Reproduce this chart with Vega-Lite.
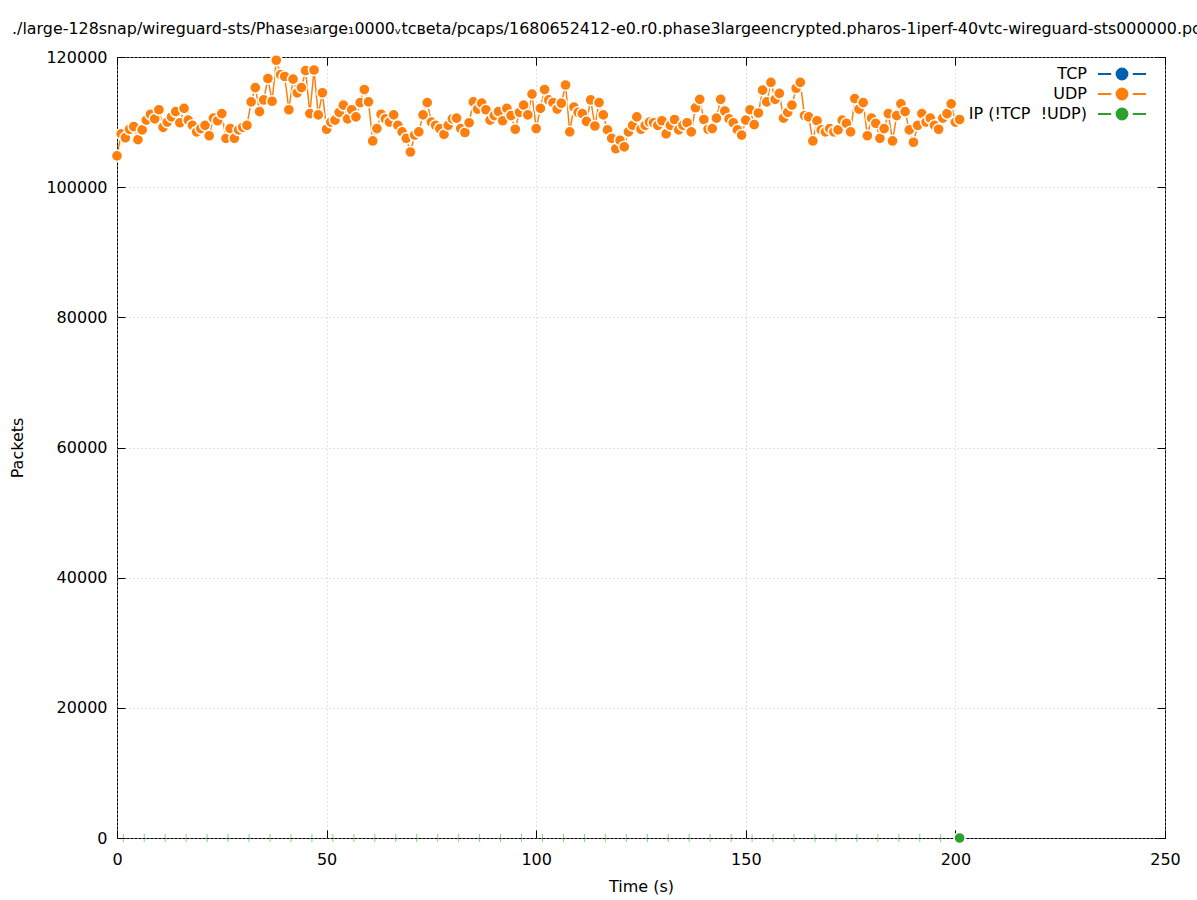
{
"$schema": "https://vega.github.io/schema/vega-lite/v6.json",
"width": 1048,
"height": 781,
"autosize": {"type": "none"},
"padding": {"left": 117, "top": 57, "right": 32, "bottom": 62},
"background": "white",
"title": {"text": "./large-128snap/wireguard-sts/Phase₃ₗarge₁0000ᵥtcʙeta/pcaps/1680652412-e0.r0.phase3largeencrypted.pharos-1iperf-40vtc-wireguard-sts000000.pcap", "anchor": "start", "frame": "group", "dx": -105, "offset": -1, "baseline": "alphabetic", "font": "DejaVu Sans", "fontSize": 15.9, "fontWeight": "normal", "color": "black"},
"datasets": {
"udp": [
{"t":0,"p":104800},{"t":1,"p":108200},{"t":2,"p":107600},{"t":3,"p":108900},{"t":4,"p":109300},{"t":5,"p":107300},{"t":6,"p":108800},{"t":7,"p":110300},{"t":8,"p":111200},{"t":9,"p":110500},
{"t":10,"p":111900},{"t":11,"p":109200},{"t":12,"p":110000},{"t":13,"p":110800},{"t":14,"p":111600},{"t":15,"p":109900},{"t":16,"p":112100},{"t":17,"p":110300},{"t":18,"p":109500},{"t":19,"p":108500},
{"t":20,"p":109000},{"t":21,"p":109500},{"t":22,"p":107900},{"t":23,"p":110600},{"t":24,"p":110200},{"t":25,"p":111300},{"t":26,"p":107500},{"t":27,"p":109000},{"t":28,"p":107500},{"t":29,"p":108800},
{"t":30,"p":109200},{"t":31,"p":109500},{"t":32,"p":113100},{"t":33,"p":115300},{"t":34,"p":111600},{"t":35,"p":113400},{"t":36,"p":116700},{"t":37,"p":113200},{"t":38,"p":119500},{"t":39,"p":117300},
{"t":40,"p":117000},{"t":41,"p":111900},{"t":42,"p":116600},{"t":43,"p":114500},{"t":44,"p":115300},{"t":45,"p":117900},{"t":46,"p":111300},{"t":47,"p":118000},{"t":48,"p":111100},{"t":49,"p":114500},
{"t":50,"p":108900},{"t":51,"p":110000},{"t":52,"p":110300},{"t":53,"p":111500},{"t":54,"p":112600},{"t":55,"p":110500},{"t":56,"p":111900},{"t":57,"p":110800},{"t":58,"p":113000},{"t":59,"p":115000},
{"t":60,"p":113100},{"t":61,"p":107100},{"t":62,"p":109000},{"t":63,"p":111200},{"t":64,"p":110500},{"t":65,"p":110000},{"t":66,"p":111100},{"t":67,"p":109500},{"t":68,"p":108500},{"t":69,"p":107500},
{"t":70,"p":105400},{"t":71,"p":108000},{"t":72,"p":108500},{"t":73,"p":111100},{"t":74,"p":113000},{"t":75,"p":110000},{"t":76,"p":109500},{"t":77,"p":109000},{"t":78,"p":108100},{"t":79,"p":109500},
{"t":80,"p":110500},{"t":81,"p":110600},{"t":82,"p":109000},{"t":83,"p":108400},{"t":84,"p":109900},{"t":85,"p":113100},{"t":86,"p":112000},{"t":87,"p":112900},{"t":88,"p":111900},{"t":89,"p":110300},
{"t":90,"p":111000},{"t":91,"p":111600},{"t":92,"p":110200},{"t":93,"p":112100},{"t":94,"p":111000},{"t":95,"p":108900},{"t":96,"p":111500},{"t":97,"p":112600},{"t":98,"p":111100},{"t":99,"p":114300},
{"t":100,"p":109000},{"t":101,"p":112100},{"t":102,"p":115000},{"t":103,"p":113400},{"t":104,"p":113000},{"t":105,"p":112000},{"t":106,"p":112900},{"t":107,"p":115700},{"t":108,"p":108500},{"t":109,"p":112300},
{"t":110,"p":111500},{"t":111,"p":111300},{"t":112,"p":110100},{"t":113,"p":113400},{"t":114,"p":109400},{"t":115,"p":113000},{"t":116,"p":111100},{"t":117,"p":108800},{"t":118,"p":107500},{"t":119,"p":105900},
{"t":120,"p":107200},{"t":121,"p":106200},{"t":122,"p":108500},{"t":123,"p":109500},{"t":124,"p":110800},{"t":125,"p":108900},{"t":126,"p":109500},{"t":127,"p":110000},{"t":128,"p":109900},{"t":129,"p":109500},
{"t":130,"p":110200},{"t":131,"p":108200},{"t":132,"p":109500},{"t":133,"p":110400},{"t":134,"p":108800},{"t":135,"p":109500},{"t":136,"p":109900},{"t":137,"p":108500},{"t":138,"p":112200},{"t":139,"p":113500},
{"t":140,"p":110400},{"t":141,"p":108900},{"t":142,"p":109000},{"t":143,"p":110600},{"t":144,"p":113500},{"t":145,"p":111700},{"t":146,"p":110500},{"t":147,"p":109900},{"t":148,"p":108800},{"t":149,"p":108000},
{"t":150,"p":110300},{"t":151,"p":111900},{"t":152,"p":109600},{"t":153,"p":111400},{"t":154,"p":114900},{"t":155,"p":113100},{"t":156,"p":116100},{"t":157,"p":113500},{"t":158,"p":114400},{"t":159,"p":110600},
{"t":160,"p":111500},{"t":161,"p":112600},{"t":162,"p":115200},{"t":163,"p":116100},{"t":164,"p":111000},{"t":165,"p":110800},{"t":166,"p":107100},{"t":167,"p":110200},{"t":168,"p":108800},{"t":169,"p":108500},
{"t":170,"p":109000},{"t":171,"p":108500},{"t":172,"p":108800},{"t":173,"p":110300},{"t":174,"p":109800},{"t":175,"p":108500},{"t":176,"p":113600},{"t":177,"p":112000},{"t":178,"p":113000},{"t":179,"p":107900},
{"t":180,"p":110600},{"t":181,"p":109800},{"t":182,"p":107500},{"t":183,"p":109000},{"t":184,"p":111300},{"t":185,"p":107100},{"t":186,"p":111000},{"t":187,"p":112800},{"t":188,"p":111600},{"t":189,"p":108800},
{"t":190,"p":106900},{"t":191,"p":109500},{"t":192,"p":111300},{"t":193,"p":110000},{"t":194,"p":110600},{"t":195,"p":109500},{"t":196,"p":108900},{"t":197,"p":110600},{"t":198,"p":111300},{"t":199,"p":112800},
{"t":200,"p":110000},{"t":201,"p":110400}
],
"ip": [
{"t":1.5,"p":0},{"t":6.5,"p":0},{"t":11.5,"p":0},{"t":16.5,"p":0},{"t":21.5,"p":0},{"t":26.5,"p":0},{"t":31.5,"p":0},{"t":36.5,"p":0},{"t":41.5,"p":0},{"t":46.5,"p":0},
{"t":51.5,"p":0},{"t":56.5,"p":0},{"t":61.5,"p":0},{"t":66.5,"p":0},{"t":71.5,"p":0},{"t":76.5,"p":0},{"t":81.5,"p":0},{"t":86.5,"p":0},{"t":91.5,"p":0},{"t":96.5,"p":0},
{"t":101.5,"p":0},{"t":106.5,"p":0},{"t":111.5,"p":0},{"t":116.5,"p":0},{"t":121.5,"p":0},{"t":126.5,"p":0},{"t":131.5,"p":0},{"t":136.5,"p":0},{"t":141.5,"p":0},{"t":146.5,"p":0},
{"t":151.5,"p":0},{"t":156.5,"p":0},{"t":161.5,"p":0},{"t":166.5,"p":0},{"t":171.5,"p":0},{"t":176.5,"p":0},{"t":181.5,"p":0},{"t":186.5,"p":0},{"t":191.5,"p":0},{"t":196.5,"p":0},
{"t":201,"p":0}
]
},
"config": {
"view": {"stroke": "black", "strokeWidth": 1},
"font": "DejaVu Sans",
"axis": {"labelFont": "DejaVu Sans", "labelFontSize": 16, "labelColor": "black", "titleFont": "DejaVu Sans", "titleFontSize": 16, "titleFontWeight": "normal", "titleColor": "black", "tickColor": "black", "tickWidth": 1, "gridColor": "#c4c4c4", "gridDash": [1, 3], "gridWidth": 1, "labelFlush": false, "labelOverlap": false}
},
"resolve": {"axis": {"x": "independent", "y": "independent"}},
"layer": [
{
"data": {"name": "udp"},
"mark": {"type": "line", "strokeWidth": 1.5},
"encoding": {
"x": {"field": "t", "type": "quantitative", "scale": {"domain": [0, 250], "nice": false, "zero": false},
"axis": {"title": "Time (s)", "values": [0, 50, 100, 150, 200, 250], "grid": true, "tickSize": -8, "labelPadding": 21, "domain": false, "titleY": 48, "titleBaseline": "middle"}},
"y": {"field": "p", "type": "quantitative", "scale": {"domain": [0, 120000], "nice": false},
"axis": {"title": "Packets", "values": [0, 20000, 40000, 60000, 80000, 100000, 120000], "format": "d", "grid": true, "tickSize": -8, "labelPadding": 18, "domain": false, "titleX": -92}},
"color": {"datum": "UDP", "type": "nominal",
"scale": {"domain": ["TCP", "UDP", "IP (!TCP\u00a0\u00a0!UDP)"], "range": ["#0060ad", "#ff7f0e", "#2ca02c"]},
"legend": {"orient": "none", "legendX": 997, "legendY": 9, "title": null, "padding": 0,
"symbolType": "M-4,0H-1.8M1.8,0H4M-0.9,0A0.9,0.9,0,1,0,0.9,0A0.9,0.9,0,1,0,-0.9,0",
"symbolSize": 144, "symbolStrokeWidth": 2, "symbolOpacity": 1,
"labelAlign": "right", "labelOffset": -43, "labelFontSize": 16, "labelFont": "DejaVu Sans", "labelColor": "black", "rowPadding": 0,
"encode": {"symbols": {"update": {"fill": {"scale": "color", "field": "value"}, "stroke": {"scale": "color", "field": "value"}, "opacity": {"value": 1}}}}}}
}
},
{
"data": {"name": "udp"},
"mark": {"type": "point", "filled": true, "size": 125, "stroke": "white", "strokeWidth": 1.5, "opacity": 1},
"encoding": {
"x": {"field": "t", "type": "quantitative", "axis": {"orient": "top", "labels": false, "grid": false, "tickSize": -8, "title": null, "domain": false, "values": [0, 50, 100, 150, 200, 250]}},
"y": {"field": "p", "type": "quantitative", "axis": {"orient": "right", "labels": false, "grid": false, "tickSize": -8, "title": null, "domain": false, "values": [0, 20000, 40000, 60000, 80000, 100000, 120000]}},
"color": {"datum": "UDP", "type": "nominal"}
}
},
{
"data": {"name": "ip"},
"transform": [{"filter": "datum.t < 200"}],
"mark": {"type": "point", "shape": "M0,-1V1", "filled": false, "size": 64, "strokeWidth": 1, "opacity": 0.55},
"encoding": {
"x": {"field": "t", "type": "quantitative", "axis": null},
"y": {"field": "p", "type": "quantitative", "axis": null},
"color": {"datum": "IP (!TCP\u00a0\u00a0!UDP)", "type": "nominal"}
}
},
{
"data": {"name": "ip"},
"transform": [{"filter": "datum.t > 200"}],
"mark": {"type": "point", "filled": true, "size": 125, "stroke": "white", "strokeWidth": 1.5, "opacity": 1},
"encoding": {
"x": {"field": "t", "type": "quantitative", "axis": null},
"y": {"field": "p", "type": "quantitative", "axis": null},
"color": {"datum": "IP (!TCP\u00a0\u00a0!UDP)", "type": "nominal"}
}
}
]
}
